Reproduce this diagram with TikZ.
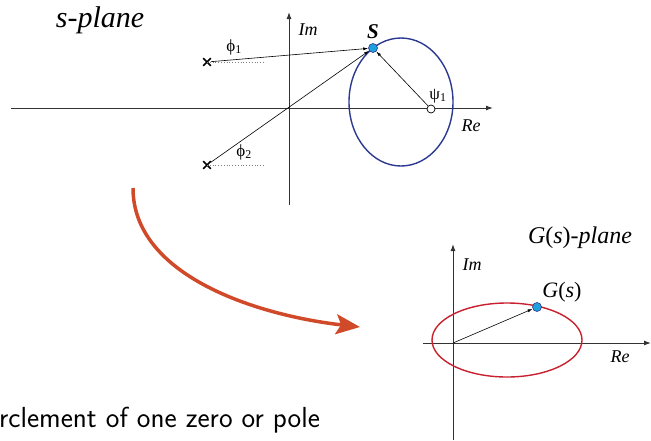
\documentclass[tikz,border=0pt]{standalone}
\usepackage{fontspec}
\setmainfont{Liberation Serif}
\usepackage{xcolor}
\usepackage{tikz}
\usetikzlibrary{positioning, arrows.meta, shapes.misc}

\definecolor{axisgray}{HTML}{333333}
\definecolor{locusblue}{HTML}{2B3990}
\definecolor{locusred}{HTML}{C8202F}
\definecolor{dotcyan}{HTML}{1EA0DC}
\definecolor{maporange}{HTML}{D04A2A}

\begin{document}
\begin{tikzpicture}[
    x=1pt, y=-1pt,
    axis/.style={draw=axisgray, line width=1pt, -{Latex[length=7pt,width=5pt]}},
    vec/.style={draw=black, line width=0.6pt, -{Latex[length=5pt,width=3pt]}},
    refline/.style={draw=gray, dotted, line width=0.8pt},
    pole/.style={cross out, draw=black, line width=1.6pt, minimum size=6pt, inner sep=0pt},
    zero/.style={circle, draw=black, fill=white, line width=0.7pt, minimum size=8pt, inner sep=0pt},
    pt/.style={circle, draw=locusblue, fill=dotcyan, line width=0.6pt, minimum size=9pt, inner sep=0pt},
    lbl/.style={font=\fontsize{18}{21}\selectfont\itshape, inner sep=1pt},
    greek/.style={font=\fontsize{17}{20}\selectfont, inner sep=1pt},
    title/.style={font=\fontsize{30}{34}\selectfont\itshape, inner sep=0pt},
    map/.style={draw=maporange, line width=3.5pt, -{Stealth[length=24pt,width=20pt,inset=5pt]}}
]
\useasboundingbox (0,0) rectangle (651,440);
% Left — s-plane
\node[title] (s_t) at (100,20) {s-plane};
\draw[axis] (11,108) -- (493,108);
\draw[axis] (289,205) -- (289,12);
\node[lbl] (s_im) at (308,30) {Im};
\node[lbl] (s_re) at (471,126) {Re};
\draw[locusblue, line width=1.4pt] (401,102) ellipse [x radius=52, y radius=64];
\node[pole] (p1) at (207,62) {};
\node[pole] (p2) at (207,165) {};
\node[zero] (z1) at (431,109) {};
\node[pt] (s) at (373,48) {};
\node[font=\fontsize{21}{24}\selectfont\bfseries\itshape, above=1pt of s] (s_l) {S};
\draw[refline] (p1.center) -- ++(58,0);
\draw[refline] (p2.center) -- ++(58,0);
\node[greek] (phi1) at (234,47) {ϕ\textsubscript{1}};
\node[greek] (phi2) at (244,152) {ϕ\textsubscript{2}};
\node[greek] (psi1) at (438,96) {ψ\textsubscript{1}};
\draw[vec] (p1) -- (s);
\draw[vec] (p2) -- (s);
\draw[vec] (z1) -- (s);
% Mapping arrow
\coordinate (m_a) at (133,188);
\coordinate (m_b) at (360,327);
\draw[map] (m_a) .. controls (133,275) and (255,315) .. (m_b);
% Right — G(s)-plane
\node[title, font=\fontsize{24}{28}\selectfont] (g_t) at (580,238) {\textit{G}(\textit{s})\textit{-plane}};
\draw[axis] (423,343) -- (651,343);
\draw[axis] (453,440) -- (453,244);
\node[lbl] (g_im) at (472,265) {Im};
\node[lbl] (g_re) at (620,357) {Re};
\draw[locusred, line width=1.4pt] (507,340) ellipse [x radius=75, y radius=37];
\coordinate (g_o) at (453,343);
\node[pt] (g) at (537,307) {};
\node[font=\fontsize{22}{25}\selectfont, inner sep=1pt] (g_l) at (562,292) {\textit{G}(\textit{s})};
\draw[vec] (g_o) -- (g);
% Caption
\node[font=\sffamily\fontsize{29}{34}\selectfont, anchor=base west, inner sep=0pt] (cap) at (-1,427) {rclement of one zero or pole};
\end{tikzpicture}
\end{document}
